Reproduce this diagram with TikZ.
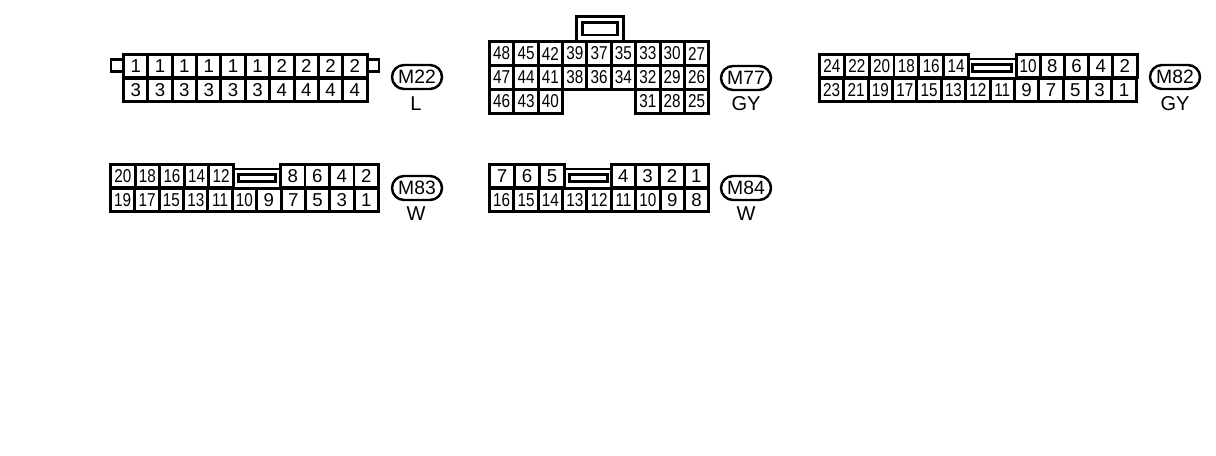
\documentclass[tikz,border=0pt]{standalone}
\usepackage{fontspec}
\setmainfont{Liberation Sans}
\usetikzlibrary{shapes.misc}

\tikzset{
  pincell/.style={draw, line width=1.7pt, minimum height=0.47cm, inner sep=0pt, font=\fontsize{10.6}{10.6}\selectfont},
  keyline/.style={line width=1.7pt},
  connlabel/.style={draw, rounded rectangle, line width=1.4pt, minimum width=1cm, minimum height=0.48cm, inner sep=0pt, font=\fontsize{11}{11}\selectfont},
  colorlabel/.style={inner sep=0pt, font=\fontsize{11.4}{11.4}\selectfont}
}

% one row of cells: [cell width], left edge, row centre, name, pin numbers
\newcommand{\pinrow}[5][24.36]{
  \foreach \pin [count=\col from 0] in {#5} {
    \pgfmathsetmacro{\xcell}{#2 + (\col + 0.5)*#1}
    \ifnum\pin>9
      \node[pincell, minimum width=#1*0.02cm] (#4-\col) at (\xcell,#3) {\scalebox{0.82}[1]{\pin}};
    \else
      \node[pincell, minimum width=#1*0.02cm] (#4-\col) at (\xcell,#3) {\pin};
    \fi
  }
}

\begin{document}
\begin{tikzpicture}[x=0.02cm, y=-0.02cm]
  \useasboundingbox (0,0) rectangle (1216,456);

  % M22
  \draw[keyline] (123.5,59.5) -- (111,59.5) -- (111,71.5) -- (123.5,71.5);
  \draw[keyline] (366.5,59.5) -- (379,59.5) -- (379,71.5) -- (366.5,71.5);
  \pinrow{123.5}{66}{M22a}{1,1,1,1,1,1,2,2,2,2}
  \pinrow{123.5}{90}{M22b}{3,3,3,3,3,3,4,4,4,4}
  \node[connlabel] (M22) at (417,77) {M22};
  \node[colorlabel] (M22c) at (416,104) {L};

  % M77
  \draw[keyline] (576.5,41.5) -- (576.5,16.5) -- (623.5,16.5) -- (623.5,41.5);
  \draw[keyline] (582,22.5) rectangle (617,35);
  \pinrow{489.5}{53.5}{M77a}{48,45,42,39,37,35,33,30,27}
  \pinrow{489.5}{77.5}{M77b}{47,44,41,38,36,34,32,29,26}
  \pinrow{489.5}{101.5}{M77c}{46,43,40}
  \pinrow{635.66}{101.5}{M77d}{31,28,25}
  \node[connlabel] (M77) at (746,78) {M77};
  \node[colorlabel] (M77c) at (746,104) {GY};

  % M82
  \draw[keyline] (968.5,59) -- (1016,59);
  \draw[keyline] (972.5,64.5) rectangle (1011,71.5);
  \pinrow[24.83]{819.5}{66}{M82a}{24,22,20,18,16,14}
  \pinrow[24.2]{1016}{66}{M82b}{10,8,6,4,2}
  \pinrow{819.5}{90}{M82c}{23,21,19,17,15,13,12,11,9,7,5,3,1}
  \node[connlabel] (M82) at (1175,77) {M82};
  \node[colorlabel] (M82c) at (1175,104) {GY};

  % M83
  \draw[keyline] (233.5,169) -- (280.5,169);
  \draw[keyline] (238.5,174.5) rectangle (275.5,181.5);
  \pinrow[24.6]{110.5}{176}{M83a}{20,18,16,14,12}
  \pinrow[24.5]{280.5}{176}{M83b}{8,6,4,2}
  \pinrow{110.5}{200}{M83c}{19,17,15,13,11,10,9,7,5,3,1}
  \node[connlabel] (M83) at (417,188) {M83};
  \node[colorlabel] (M83c) at (416,214) {W};

  % M84
  \draw[keyline] (564.5,169) -- (611,169);
  \draw[keyline] (569.5,174.5) rectangle (607.5,181.5);
  \pinrow[25]{489.5}{176}{M84a}{7,6,5}
  \pinrow[24.38]{611}{176}{M84b}{4,3,2,1}
  \pinrow{489.5}{200}{M84c}{16,15,14,13,12,11,10,9,8}
  \node[connlabel] (M84) at (746,188) {M84};
  \node[colorlabel] (M84c) at (746,214) {W};
\end{tikzpicture}
\end{document}
